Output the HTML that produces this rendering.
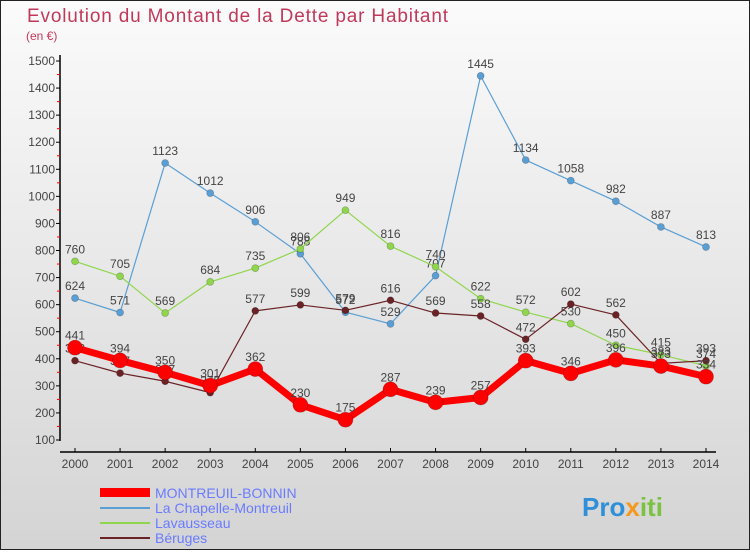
<!DOCTYPE html>
<html><head><meta charset="utf-8"><style>
body{margin:0;width:750px;height:550px;overflow:hidden;font-family:"Liberation Sans",sans-serif}
svg text{font-family:"Liberation Sans",sans-serif}
</style></head><body>
<svg id="c" width="750" height="550">
<defs><linearGradient id="bg" x1="0" y1="0" x2="0" y2="1"><stop offset="0" stop-color="#fbfbfb"/><stop offset="1" stop-color="#d4d4d4"/></linearGradient></defs>
<rect x="0.5" y="0.5" width="749" height="549" fill="url(#bg)" stroke="#222"/>
<text x="27" y="22" font-size="19" fill="#c0395a" textLength="421">Evolution du Montant de la Dette par Habitant</text>
<text x="26" y="40" font-size="12" fill="#c0395a">(en €)</text>
<g id="axes"></g><g id="series"></g>
<g>
<rect x="100" y="488" width="50" height="9" fill="#f00"/>
<text x="155" y="498" font-size="14" fill="#6a7bff">MONTREUIL-BONNIN</text>
<line x1="100" y1="508" x2="150" y2="508" stroke="#5a9fd4" stroke-width="2"/>
<text x="155" y="513" font-size="14" fill="#6a7bff">La Chapelle-Montreuil</text>
<line x1="100" y1="523" x2="150" y2="523" stroke="#8fd64c" stroke-width="2"/>
<text x="155" y="528" font-size="14" fill="#6a7bff">Lavausseau</text>
<line x1="100" y1="538" x2="150" y2="538" stroke="#6b2226" stroke-width="2"/>
<text x="155" y="543" font-size="14" fill="#6a7bff">Béruges</text>
</g>
<text x="582" y="516" font-size="26" font-weight="bold" fill="#2f8fd8">Pro<tspan fill="#f39a1e">x</tspan><tspan fill="#7cc242">iti</tspan></text>
</svg>
<script>
const years=[2000,2001,2002,2003,2004,2005,2006,2007,2008,2009,2010,2011,2012,2013,2014];
const yTicks=[100,200,300,400,500,600,700,800,900,1000,1100,1200,1300,1400,1500];
const montreuil=[441,394,350,301,362,230,175,287,239,257,393,346,396,373,334];
const chapelle=[624,571,1123,1012,906,788,572,529,707,1445,1134,1058,982,887,813];
const lavausseau=[760,705,569,684,735,806,949,816,740,622,572,530,450,415,374];
const beruges=[393,347,317,275,577,599,579,616,569,558,472,602,562,383,393];
const NS="http://www.w3.org/2000/svg";
const X=i=>75+i*(631/14);
const Y=v=>440-(v-100)*(379/1400);
function mk(t,a,p){const e=document.createElementNS(NS,t);for(const k in a)e.setAttribute(k,a[k]);p.appendChild(e);return e;}
const ax=document.getElementById('axes');
let l=mk('line',{x1:60,y1:55,x2:60,y2:441,stroke:'#000','stroke-width':1.5},ax);


l=mk('line',{x1:60,y1:452,x2:716,y2:452,stroke:'#000','stroke-width':1.5},ax);


yTicks.forEach((v,i)=>{
 mk('line',{x1:56,y1:Y(v),x2:60,y2:Y(v),stroke:'#000'},ax);
 if(i<yTicks.length-1) mk('line',{x1:57,y1:Y(v+50),x2:60,y2:Y(v+50),stroke:'#f00'},ax);
 const t=mk('text',{x:55,y:Y(v)+4,'font-size':12,fill:'#444','text-anchor':'end'},ax);t.textContent=v;
 
 
});
years.forEach((y,i)=>{
 mk('line',{x1:X(i),y1:448,x2:X(i),y2:452,stroke:'#000'},ax);
 const t=mk('text',{x:X(i),y:468,'font-size':12,fill:'#444','text-anchor':'middle'},ax);t.textContent=y;
 
 
});
const sg=document.getElementById('series');
function draw(data,color,w,r,name){
 const g=mk('g',{},sg);
 
 
 mk('polyline',{points:data.map((v,i)=>X(i)+','+Y(v)).join(' '),fill:'none',stroke:color,'stroke-width':w,'stroke-linejoin':'round'},g);
 data.forEach((v,i)=>{
  const c=mk('circle',{cx:X(i),cy:Y(v),r:r,fill:color,stroke:'rgba(0,0,0,0.25)','stroke-width':0.7},g);
  
  
  const t=mk('text',{x:X(i),y:Y(v)-8,'font-size':12,fill:'#444','text-anchor':'middle'},g);t.textContent=v;
  
  
 });
}
draw(chapelle,'#5a9fd4',1.2,3.5,'series-chapelle');
draw(lavausseau,'#8fd64c',1.2,3.5,'series-lavausseau');
draw(beruges,'#6b2226',1.2,3.5,'series-beruges');
draw(montreuil,'#f00',7,7.5,'series-montreuil');
</script>
</body></html>
